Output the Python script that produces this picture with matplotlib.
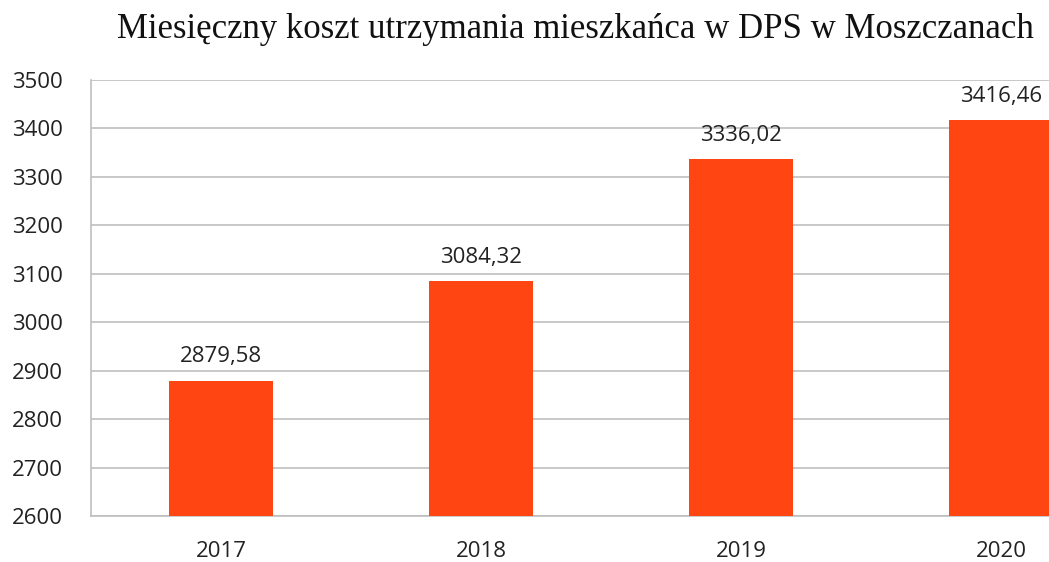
import numpy as np
import matplotlib.pyplot as plt

years = ['2017', '2018', '2019', '2020']
costs = [2879.58, 3084.32, 3336.02, 3416.46]
labels = ['2879,58', '3084,32', '3336,02', '3416,46']
yticks = [2600, 2700, 2800, 2900, 3000, 3100, 3200, 3300, 3400, 3500]

fig = plt.figure(figsize=(10.49, 5.62), dpi=100)
# plot area: left edge at x=91px, runs off the right side of the image
ax = fig.add_axes([91/1049, 1 - 516/562, 1 - 91/1049, (516 - 80)/562])

x = np.arange(len(years))
ax.bar(x, np.array(costs) - 2600, bottom=2600, width=0.4, color='#FF4511', zorder=3)

for xi, v, lab in zip(x, costs, labels):
    ax.text(xi, v + 28, lab, ha='center', va='bottom', fontsize=16,
            family='Open Sans', color='#222222')

ax.set_ylim(2600, 3500)
ax.set_xlim(-0.5, 3.185)
ax.set_yticks(yticks)
ax.set_xticks(x)
ax.set_xticklabels(years)
ax.yaxis.grid(True, color='#BFBFBF', linewidth=1.2, zorder=0)
ax.tick_params(length=0, labelsize=16, colors='#222222')
for t in ax.get_xticklabels() + ax.get_yticklabels():
    t.set_family('Open Sans')
ax.tick_params(axis='y', pad=20)
ax.tick_params(axis='x', pad=18)

for s in ['top', 'right']:
    ax.spines[s].set_visible(False)
for s in ['left', 'bottom']:
    ax.spines[s].set_color('#BFBFBF')
    ax.spines[s].set_linewidth(1.2)

fig.text(0.549, 0.948, 'Miesięczny koszt utrzymania mieszkańca w DPS w Moszczanach',
         ha='center', va='center', fontsize=25, family='Liberation Serif', color='#111111')

fig.savefig('out.png', dpi=100)
